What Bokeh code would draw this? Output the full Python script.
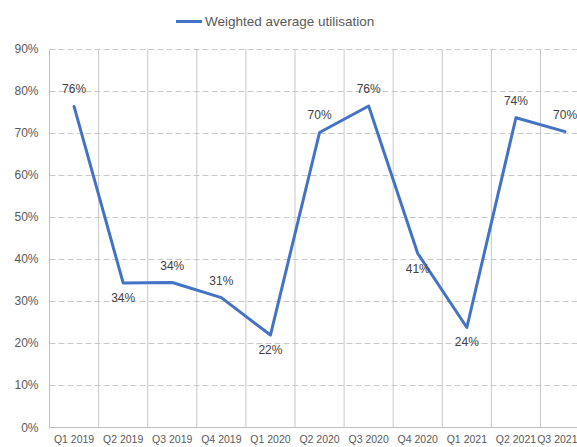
from bokeh.plotting import figure
from bokeh.models import (ColumnDataSource, FixedTicker, NumeralTickFormatter,
                          Legend, LegendItem, Range1d, LabelSet)
from bokeh.core.properties import value
from bokeh.embed import file_html
from bokeh.resources import INLINE

# ---- data ----
quarters = ["Q1 2019", "Q2 2019", "Q3 2019", "Q4 2019", "Q1 2020", "Q2 2020",
            "Q3 2020", "Q4 2020", "Q1 2021", "Q2 2021", "Q3 2021"]
utilisation = [0.764, 0.344, 0.345, 0.309, 0.220, 0.702, 0.765, 0.414, 0.238, 0.737, 0.704]
label_texts = ["76%", "34%", "34%", "31%", "22%", "70%", "76%", "41%", "24%", "74%", "70%"]
label_side = ["above", "below", "above", "above", "below", "above",
              "above", "below", "below", "above", "above"]
y_ticks = [0.0, 0.1, 0.2, 0.3, 0.4, 0.5, 0.6, 0.7, 0.8, 0.9]

FONT = "Liberation Sans"
xs = [i + 0.5 for i in range(len(quarters))]
offsets = [10 if s == "above" else -22 for s in label_side]
y_max = y_ticks[-1]

src = ColumnDataSource(dict(x=xs, y=utilisation, t=label_texts, off=offsets))

FRAME_H = 429
PLOT_H = 380
p = figure(width=577, height=447, output_backend="svg", toolbar_location=None,
           x_range=Range1d(0, 528 / 49.1),
           y_range=Range1d(0, y_max * FRAME_H / PLOT_H),
           min_border_left=49, min_border_right=0, min_border_top=0,
           min_border_bottom=18)
p.outline_line_color = None
p.background_fill_color = "white"
p.border_fill_color = "white"

# vertical category separators (gridlines) limited to the value range
bounds = list(range(0, len(quarters) + 1))
p.segment(x0=bounds, y0=[0] * len(bounds), x1=bounds, y1=[y_max] * len(bounds),
          line_color="#C8C8C8", line_width=1)

r = p.line("x", "y", source=src, line_color="#4472C4", line_width=3,
           line_join="round", line_cap="round")

labels = LabelSet(x="x", y="y", text="t", y_offset="off", source=src,
                  text_align="center", text_font=value(FONT), text_font_size="12px",
                  text_color="#404040")
p.add_layout(labels)

# axes
p.xaxis.ticker = FixedTicker(ticks=xs)
p.xaxis.major_label_overrides = {x: q for x, q in zip(xs, quarters)}
p.xaxis.major_tick_line_color = None
p.xaxis.minor_tick_line_color = None
p.xaxis.axis_line_color = "#BFBFBF"
p.xaxis.major_label_standoff = -1
p.xaxis.major_label_text_font = FONT
p.xaxis.major_label_text_font_size = "10.5px"
p.xaxis.major_label_text_color = "#595959"

p.yaxis.ticker = FixedTicker(ticks=y_ticks)
p.yaxis.bounds = (0, y_max)
p.yaxis.formatter = NumeralTickFormatter(format="0%")
p.yaxis.major_tick_line_color = None
p.yaxis.minor_tick_line_color = None
p.yaxis.axis_line_color = "#BFBFBF"
p.yaxis.major_label_standoff = 5
p.yaxis.major_label_text_font = FONT
p.yaxis.major_label_text_font_size = "12px"
p.yaxis.major_label_text_color = "#595959"

# grids
p.xgrid.visible = False
p.ygrid.ticker = FixedTicker(ticks=y_ticks)
p.ygrid.grid_line_color = "#C8C8C8"
p.ygrid.grid_line_dash = "6 3"
p.ygrid.grid_line_width = 1

legend = Legend(items=[LegendItem(label="Weighted average utilisation", renderers=[r])],
                location=(127, 398), orientation="horizontal")
legend.label_text_font = FONT
legend.label_text_font_size = "13.5px"
legend.label_text_color = "#595959"
legend.border_line_color = None
legend.background_fill_alpha = 0
legend.glyph_width = 26
legend.glyph_height = 16
legend.label_standoff = 3
legend.padding = 2
legend.margin = 0
p.add_layout(legend)

open("out.html", "w").write(file_html(p, INLINE))
